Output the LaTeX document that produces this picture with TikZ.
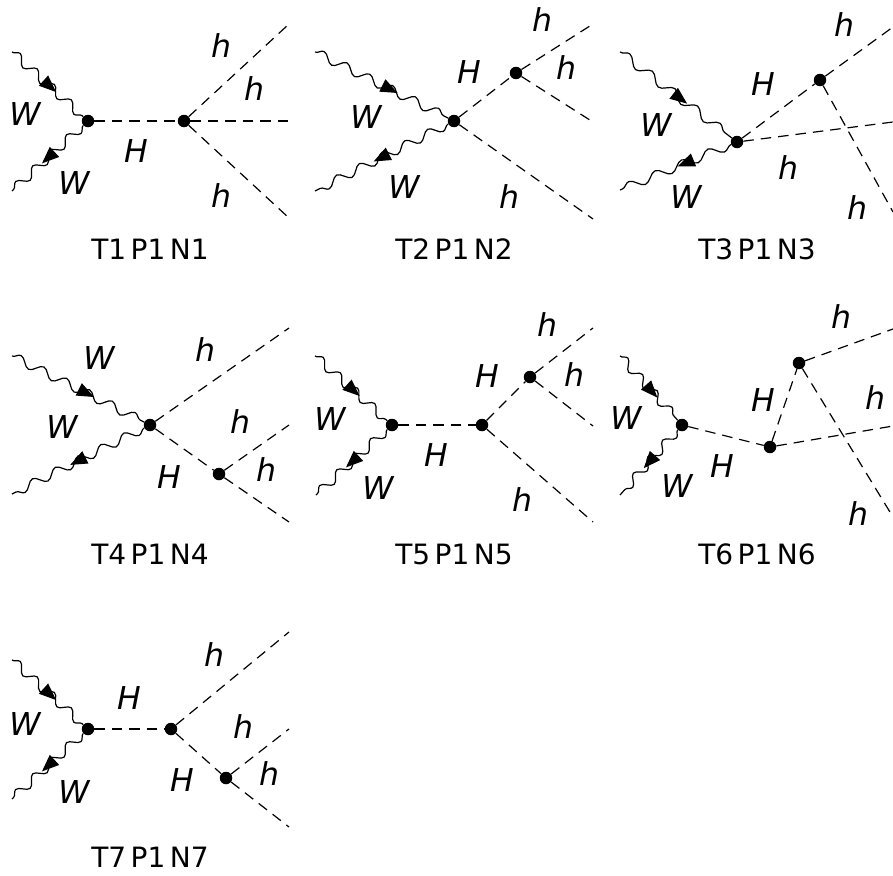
\documentclass[tikz,border=0pt]{standalone}
\usepackage{fontspec}
\setmainfont{DejaVu Sans}
\newfontfamily\capfont[WordSpace=0.5]{DejaVu Sans}
\usetikzlibrary{decorations.pathmorphing,decorations.markings,arrows.meta}
\tikzset{
  vtx/.style={circle,fill=black,inner sep=0pt,minimum size=12.5pt},
  scal/.style={draw=black,line width=1.2pt,dash pattern=on 10.5pt off 7pt},
  wav/.style n args={2}{line width=1.2pt,
    postaction={draw,decorate,decoration={snake,amplitude=4.5pt,segment length=#1 pt}},
    postaction={decorate,decoration={markings,mark=at position #2 with {\arrow{Triangle[length=17pt,width=13.5pt]}}}}},
  lab/.style={font=\fontsize{31.5}{31.5}\selectfont\itshape,inner sep=0pt},
  captxt/.style={font=\capfont\fontsize{28}{28}\selectfont,inner sep=0pt},
}
\begin{document}
\begin{tikzpicture}[x=1pt,y=-1pt]
\useasboundingbox (0,0) rectangle (893,875);
\begin{scope}
\clip (0,0) rectangle (893,875);
% T1
\node[vtx] (a1) at (88,121) {}; \node[vtx] (a2) at (184,121) {};
\coordinate (ai1) at (12,52); \coordinate (ai2) at (12,191);
\coordinate (ao1) at (289,24); \coordinate (ao2) at (289,121); \coordinate (ao3) at (289,218);
\path[wav={23}{.62}] (ai1) -- (a1); \path[wav={23}{.58}] (a1) -- (ai2);
\draw[scal] (a1) -- (a2); \draw[scal] (a2) -- (ao1); \draw[scal] (a2) -- (ao2); \draw[scal] (a2) -- (ao3);
\node[lab] (al1) at (25,114) {W}; \node[lab] (al2) at (74,183) {W}; \node[lab] (al3) at (136,151) {H};
\node[lab] (al4) at (221,46) {h}; \node[lab] (al5) at (254,89) {h}; \node[lab] (al6) at (221,196) {h};
\node[captxt] (ac) at (150,249) {T1 P1 N1};
% T2
\node[vtx] (b1) at (454,121) {}; \node[vtx] (b2) at (516,73) {};
\coordinate (bi1) at (315,52); \coordinate (bi2) at (315,191);
\coordinate (bo1) at (593,24); \coordinate (bo2) at (593,122); \coordinate (bo3) at (593,219);
\path[wav={25.5}{.62}] (bi1) -- (b1); \path[wav={25.5}{.56}] (b1) -- (bi2);
\draw[scal] (b1) -- (b2); \draw[scal] (b2) -- (bo1); \draw[scal] (b2) -- (bo2); \draw[scal] (b1) -- (bo3);
\node[lab] (bl1) at (366,117) {W}; \node[lab] (bl2) at (404,187) {W}; \node[lab] (bl3) at (469,72) {H};
\node[lab] (bl4) at (542,20) {h}; \node[lab] (bl5) at (566,68) {h}; \node[lab] (bl6) at (509,197) {h};
\node[captxt] (bc) at (454,249) {T2 P1 N2};
% T3
\node[vtx] (c1) at (737,142) {}; \node[vtx] (c2) at (820,80) {};
\coordinate (ci1) at (620,52); \coordinate (ci2) at (620,190);
\coordinate (co1) at (893,27); \coordinate (co2) at (893,122); \coordinate (co3) at (893,212);
\path[wav={28.5}{.6}] (ci1) -- (c1); \path[wav={28.5}{.48}] (c1) -- (ci2);
\draw[scal] (c1) -- (c2); \draw[scal] (c2) -- (co1); \draw[scal] (c1) -- (co2); \draw[scal] (c2) -- (co3);
\node[lab] (cl1) at (656,125) {W}; \node[lab] (cl2) at (686,197) {W}; \node[lab] (cl3) at (763,84) {H};
\node[lab] (cl4) at (844,25) {h}; \node[lab] (cl5) at (788,168) {h}; \node[lab] (cl6) at (857,208) {h};
\node[captxt] (cc) at (757,249) {T3 P1 N3};
% T4
\node[vtx] (d1) at (150,425) {}; \node[vtx] (d2) at (219,474) {};
\coordinate (di1) at (12,356); \coordinate (di2) at (12,494);
\coordinate (do1) at (289,328); \coordinate (do2) at (289,425); \coordinate (do3) at (289,522);
\path[wav={25.5}{.62}] (di1) -- (d1); \path[wav={25.5}{.56}] (d1) -- (di2);
\draw[scal] (d1) -- (d2); \draw[scal] (d1) -- (do1); \draw[scal] (d2) -- (do2); \draw[scal] (d2) -- (do3);
\node[lab] (dl1) at (99,358) {W}; \node[lab] (dl2) at (62,427) {W}; \node[lab] (dl3) at (169,477) {H};
\node[lab] (dl4) at (205,350) {h}; \node[lab] (dl5) at (240,422) {h}; \node[lab] (dl6) at (266,470) {h};
\node[captxt] (dc) at (150,554) {T4 P1 N4};
% T5
\node[vtx] (e1) at (392,425) {}; \node[vtx] (e2) at (482,425) {}; \node[vtx] (e3) at (530,377) {};
\coordinate (ei1) at (315,356); \coordinate (ei2) at (316,495);
\coordinate (eo1) at (593,328); \coordinate (eo2) at (593,426); \coordinate (eo3) at (593,522);
\path[wav={23}{.62}] (ei1) -- (e1); \path[wav={23}{.58}] (e1) -- (ei2);
\draw[scal] (e1) -- (e2); \draw[scal] (e2) -- (e3); \draw[scal] (e3) -- (eo1); \draw[scal] (e3) -- (eo2); \draw[scal] (e2) -- (eo3);
\node[lab] (el1) at (330,419) {W}; \node[lab] (el2) at (378,488) {W}; \node[lab] (el3) at (436,455) {H}; \node[lab] (el4) at (487,376) {H};
\node[lab] (el5) at (547,325) {h}; \node[lab] (el6) at (574,375) {h}; \node[lab] (el7) at (522,500) {h};
\node[captxt] (ec) at (454,554) {T5 P1 N5};
% T6
\node[vtx] (f1) at (682,425) {}; \node[vtx] (f2) at (770,447) {}; \node[vtx] (f3) at (799,363) {};
\coordinate (fi1) at (620,356); \coordinate (fi2) at (620,495);
\coordinate (fo1) at (893,329); \coordinate (fo2) at (893,426); \coordinate (fo3) at (893,517);
\path[wav={22}{.65}] (fi1) -- (f1); \path[wav={22}{.59}] (f1) -- (fi2);
\draw[scal] (f1) -- (f2); \draw[scal] (f2) -- (f3); \draw[scal] (f3) -- (fo1); \draw[scal] (f2) -- (fo2); \draw[scal] (f3) -- (fo3);
\node[lab] (fl1) at (626,418) {W}; \node[lab] (fl2) at (677,486) {W}; \node[lab] (fl3) at (722,466) {H}; \node[lab] (fl4) at (763,400) {H};
\node[lab] (fl5) at (841,317) {h}; \node[lab] (fl6) at (875,398) {h}; \node[lab] (fl7) at (858,514) {h};
\node[captxt] (fc) at (757,554) {T6 P1 N6};
% T7
\node[vtx] (g1) at (88,729) {}; \node[vtx] (g2) at (171,729) {}; \node[vtx] (g3) at (226,778) {};
\coordinate (gi1) at (12,660); \coordinate (gi2) at (12,799);
\coordinate (go1) at (289,632); \coordinate (go2) at (289,729); \coordinate (go3) at (289,827);
\path[wav={23}{.62}] (gi1) -- (g1); \path[wav={23}{.58}] (g1) -- (gi2);
\draw[scal] (g1) -- (g2); \draw[scal] (g2) -- (g3); \draw[scal] (g2) -- (go1); \draw[scal] (g3) -- (go2); \draw[scal] (g3) -- (go3);
\node[lab] (gl1) at (25,724) {W}; \node[lab] (gl2) at (74,792) {W}; \node[lab] (gl3) at (129,698) {H}; \node[lab] (gl4) at (182,780) {H};
\node[lab] (gl5) at (214,655) {h}; \node[lab] (gl6) at (243,727) {h}; \node[lab] (gl7) at (269,774) {h};
\node[captxt] (gc) at (150,857) {T7 P1 N7};
\end{scope}
\end{tikzpicture}
\end{document}
